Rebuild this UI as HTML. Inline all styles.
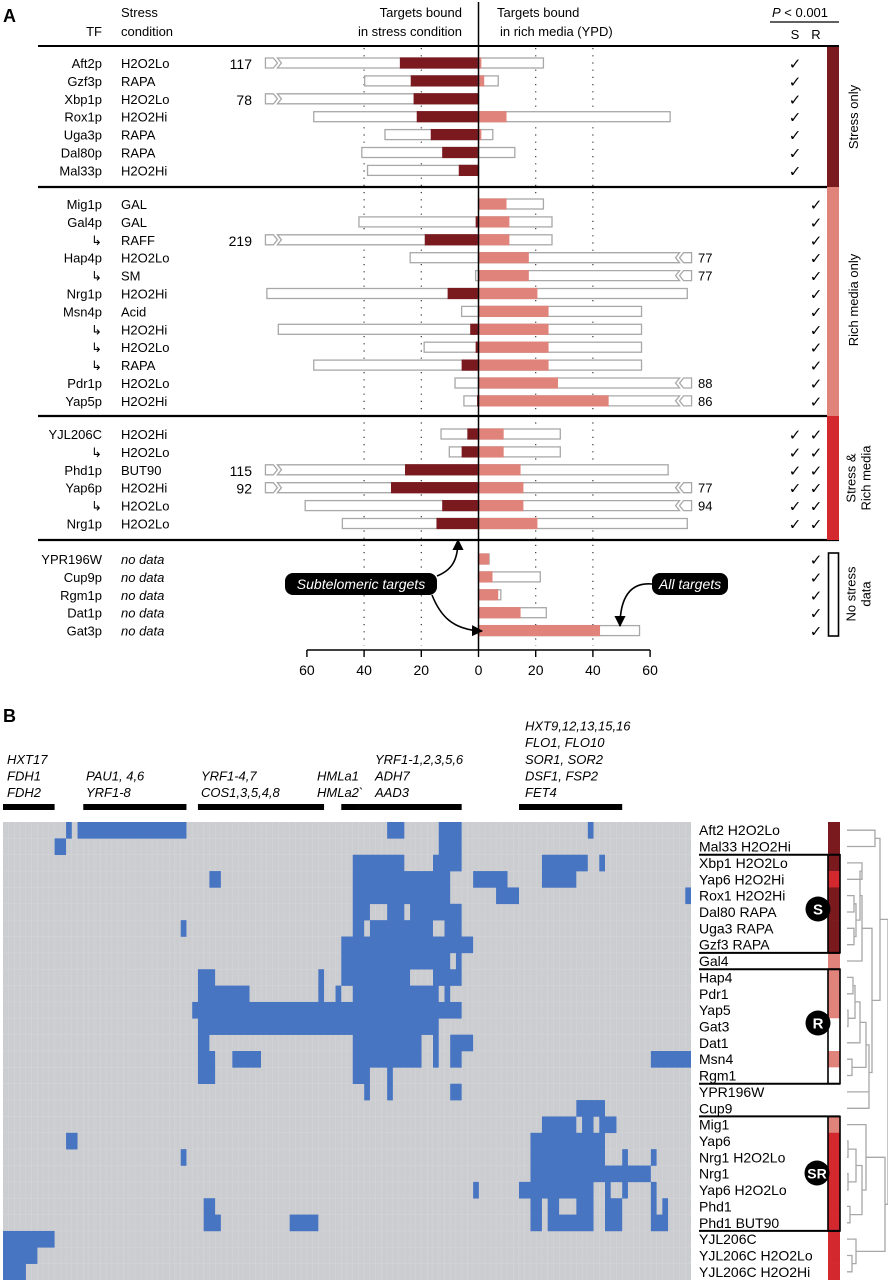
<!DOCTYPE html>
<html><head><meta charset="utf-8"><style>
html,body{margin:0;padding:0;background:#fff}
svg{display:block}
text{font-family:"Liberation Sans",Arial,sans-serif}
</style></head><body>
<svg id="fig" width="888" height="1280" viewBox="0 0 888 1280" xmlns="http://www.w3.org/2000/svg">
<g id="panelA"></g>
<g id="panelB"></g>
</svg>
<script>
// ---------- Panel A data ----------
const tfNames = ["Aft2p","Gzf3p","Xbp1p","Rox1p","Uga3p","Dal80p","Mal33p",
 "Mig1p","Gal4p","↳","Hap4p","↳","Nrg1p","Msn4p","↳","↳","↳","Pdr1p","Yap5p",
 "YJL206C","↳","Phd1p","Yap6p","↳","Nrg1p",
 "YPR196W","Cup9p","Rgm1p","Dat1p","Gat3p"];
const conditions = ["H2O2Lo","RAPA","H2O2Lo","H2O2Hi","RAPA","RAPA","H2O2Hi",
 "GAL","GAL","RAFF","H2O2Lo","SM","H2O2Hi","Acid","H2O2Hi","H2O2Lo","RAPA","H2O2Lo","H2O2Hi",
 "H2O2Hi","H2O2Lo","BUT90","H2O2Hi","H2O2Lo","H2O2Lo",
 "no data","no data","no data","no data","no data"];
const groupOf = [0,0,0,0,0,0,0, 1,1,1,1,1,1,1,1,1,1,1,1, 2,2,2,2,2,2, 3,3,3,3,3];
const stressTotal = [117,39.8,78,57.6,32.7,40.8,38.8, 0,41.8,219,23.9,1,74,5.9,70,19,57.6,8.2,5.1, 13.1,10.2,115,92,60.6,47.6, 0,0,0,0,0];
const stressBound = [27.5,23.7,22.7,21.6,16.7,12.7,6.9, 0,1,18.8,0,0,10.8,0,2.9,1,5.9,0,0.5, 3.9,5.9,25.7,30.6,12.7,14.7, 0,0,0,0,0];
const richBound = [1,2,0,9.8,1,0,0, 9.8,10.8,10.8,17.6,17.6,20.6,24.5,24.5,24.5,24.5,27.8,45.5, 8.8,8.8,14.7,15.7,15.7,20.6, 3.7,4.9,6.9,14.7,42.5];
const richTotal = [22.7,6.9,0,67,5,12.7,0, 22.7,25.7,25.7,77,77,73,57,57,57,57,88,86, 28.6,28.6,66.3,77,94,73, 3.7,21.6,7.8,23.7,56.3];
const axisTicks = [-60,-40,-20,0,20,40,60];
const groupStart = [63,204,434,559];

// ---------- Panel B data ----------
const hmRowLabels = ["Aft2 H2O2Lo","Mal33 H2O2Hi","Xbp1 H2O2Lo","Yap6 H2O2Hi","Rox1 H2O2Hi","Dal80 RAPA","Uga3 RAPA","Gzf3 RAPA","Gal4","Hap4","Pdr1","Yap5","Gat3","Dat1","Msn4","Rgm1","YPR196W","Cup9","Mig1","Yap6","Nrg1 H2O2Lo","Nrg1","Yap6 H2O2Lo","Phd1","Phd1 BUT90","YJL206C","YJL206C H2O2Lo","YJL206C H2O2Hi"];
const hmClass = ["S","S","S","SR","S","S","S","S","R","R","R","R","N","N","R","N","","","R","SR","SR","SR","SR","SR","SR","SR","SR","SR"];
const hmCols = 120;
const hmBlocks = [
 [[11,11],[13,31],[67,69],[76,79],[102,102]],
 [[9,10],[76,79]],
 [[61,69],[75,79],[94,101],[104,104]],
 [[36,37],[61,77],[82,87],[94,99]],
 [[61,77],[86,89],[119,119]],
 [[61,63],[67,69],[71,79]],
 [[31,31],[61,62],[64,74],[77,79]],
 [[59,81]],
 [[59,77],[79,79]],
 [[34,36],[55,55],[59,70],[75,79]],
 [[34,42],[55,55],[58,58],[61,75],[77,77]],
 [[33,79]],
 [[34,75]],
 [[34,35],[61,72],[75,75],[78,81]],
 [[34,36],[40,44],[61,72],[75,75],[78,79],[113,119]],
 [[34,36],[61,63],[67,67]],
 [[63,63],[67,67],[78,79]],
 [[100,104]],
 [[94,99],[101,102],[104,106]],
 [[11,12],[92,104]],
 [[31,31],[92,104],[108,108],[113,113]],
 [[92,112]],
 [[82,82],[90,102],[105,105],[108,108],[113,113]],
 [[35,36],[92,93],[95,96],[100,102],[105,107],[113,113],[115,115]],
 [[35,37],[50,54],[92,93],[95,102],[105,107],[113,115]],
 [[0,8]],[[0,5]],[[0,3]]
];
const geneGroups = [
 {lines:["HXT17","FDH1","FDH2"], c0:0, c1:8, lx:7},
 {lines:["PAU1, 4,6","YRF1-8"], c0:14, c1:31, lx:86},
 {lines:["YRF1-4,7","COS1,3,5,4,8"], c0:34, c1:55, lx:201},
 {lines:["HMLa1","HMLa2`"], c0:59, c1:61, lx:317},
 {lines:["YRF1-1,2,3,5,6","ADH7","AAD3"], c0:62, c1:79, lx:375},
 {lines:["HXT9,12,13,15,16","FLO1, FLO10","SOR1, SOR2","DSF1, FSP2","FET4"], c0:90, c1:107, lx:525}
];
const dendro = [888,[880,[875,0,1],[872,[862,[860,[862,2,3],[856,[854,4,5],[854,6,7]]],8],[869,[866,[860,[855,[853,9,10],[848,11,12]],13],[852,14,15]],[869,16,17]]]],[885,[866,18,[862,[856,[848,19,20],[848,21,22]],[850,23,24]]],[856,25,[852,26,27]]]];

// ---------- helpers ----------
const NS="http://www.w3.org/2000/svg";
function mk(tag, parent, attrs){const e=document.createElementNS(NS,tag);for(const k in attrs)e.setAttribute(k,attrs[k]);parent.appendChild(e);return e;}
function txt(parent,x,y,s,attrs){const t=mk('text',parent,Object.assign({x:x,y:y},attrs||{}));t.textContent=s;return t;}
const DARK="#7a1a1f", PINK="#e0837a", RED="#d3282e", GRAY="#a8a8a8";

// ---------- Panel A ----------
const A=document.getElementById('panelA');
const x0=478.5, ppu=2.86;
const X=v=>x0+v*ppu;
const BRK=74.5;
function yRow(i){const g=groupOf[i];let k=0;for(let j=0;j<i;j++)if(groupOf[j]===g)k++;return groupStart[g]+k*17.9;}

let t;
t=txt(A,3,22,"A",{"font-size":18,"font-weight":"bold"});

t=txt(A,102,36,"TF",{"font-size":13,"text-anchor":"end"});
t=txt(A,121,17,"Stress",{"font-size":13});
t=txt(A,121,36,"condition",{"font-size":13});
t=txt(A,462,17,"Targets bound",{"font-size":13,"text-anchor":"end"});
t=txt(A,462,36,"in stress condition",{"font-size":13,"text-anchor":"end"});
t=txt(A,497,17,"Targets bound",{"font-size":13});
t=txt(A,500,36,"in rich media (YPD)",{"font-size":13});
t=mk('text',A,{x:772,y:17,"font-size":13});t.innerHTML='<tspan font-style="italic">P</tspan> &lt; 0.001';

mk('line',A,{x1:770,y1:22,x2:839,y2:22,stroke:"#000","stroke-width":1.3});
t=txt(A,795,39,"S",{"font-size":13,"text-anchor":"middle"});
t=txt(A,816,39,"R",{"font-size":13,"text-anchor":"middle"});

[-40,-20,20,40].forEach(v=>{const l=mk('line',A,{x1:X(v),y1:48,x2:X(v),y2:646,stroke:"#333","stroke-width":1.2,"stroke-dasharray":"1.2 6"});
 });
[46,187,416,540].forEach((y,i)=>{const l=mk('line',A,{x1:38,y1:y,x2:839,y2:y,stroke:"#000","stroke-width":i===0?2:2.2});
 });

for(let i=0;i<tfNames.length;i++){
 const y=yRow(i), h=10, yt=y-5;
 const g=mk('g',A,{});
 
 t=txt(g,102,y+5,tfNames[i],{"font-size":13,"text-anchor":"end"});
 
 t=txt(g,121,y+5,conditions[i],{"font-size":13,"font-style":conditions[i]==="no data"?"italic":"normal"});
 
 const st=stressTotal[i];
 if(st>0){
  if(st>BRK){
   const xl=X(-BRK);
   let p=mk('polygon',g,{points:`${xl},${yt} ${xl+8},${yt} ${xl+12},${y} ${xl+8},${yt+h} ${xl},${yt+h}`,fill:"#fff",stroke:GRAY,"stroke-width":1.3});
   
   p=mk('polygon',g,{points:`${xl+12},${yt} ${x0},${yt} ${x0},${yt+h} ${xl+12},${yt+h} ${xl+16},${y}`,fill:"#fff",stroke:GRAY,"stroke-width":1.3});
   
   t=txt(g,252,y+6,String(st),{"font-size":14,"text-anchor":"end"});
   
  } else {
   const r=mk('rect',g,{x:X(-st),y:yt,width:st*ppu,height:h,fill:"#fff",stroke:GRAY,"stroke-width":1.3});
   
  }
 }
 if(stressBound[i]>0){const r=mk('rect',g,{x:X(-stressBound[i]),y:yt-0.6,width:stressBound[i]*ppu,height:h+1.2,fill:DARK});
  }
 const rt=richTotal[i];
 if(rt>0){
  if(rt>BRK){
   const xr=X(BRK);
   let p=mk('polygon',g,{points:`${x0},${yt} ${xr-12},${yt} ${xr-16},${y} ${xr-12},${yt+h} ${x0},${yt+h}`,fill:"#fff",stroke:GRAY,"stroke-width":1.3});
   
   p=mk('polygon',g,{points:`${xr},${yt} ${xr-8},${yt} ${xr-12},${y} ${xr-8},${yt+h} ${xr},${yt+h}`,fill:"#fff",stroke:GRAY,"stroke-width":1.3});
   
   t=txt(g,698,y+5,String(rt),{"font-size":13});
   
  } else {
   const r=mk('rect',g,{x:x0,y:yt,width:rt*ppu,height:h,fill:"#fff",stroke:GRAY,"stroke-width":1.3});
   
  }
 }
 if(richBound[i]>0){const r=mk('rect',g,{x:x0,y:yt-0.6,width:richBound[i]*ppu,height:h+1.2,fill:PINK});
  }
 const gr=groupOf[i];
 if(gr===0||gr===2){t=txt(g,795,y+6,"✓",{"font-size":15,"text-anchor":"middle"});}
 if(gr>=1){t=txt(g,816,y+6,"✓",{"font-size":15,"text-anchor":"middle"});}
}
let zl=mk('line',A,{x1:x0,y1:2,x2:x0,y2:650,stroke:"#000","stroke-width":1.5});

let ax=mk('line',A,{x1:X(-60),y1:650,x2:X(60),y2:650,stroke:"#000","stroke-width":1.4});

axisTicks.forEach(v=>{let l=mk('line',A,{x1:X(v),y1:650,x2:X(v),y2:657,stroke:"#000","stroke-width":1.4});
 
 let tt=txt(A,X(v),675,String(Math.abs(v)),{"font-size":14,"text-anchor":"middle"});
 });
[[47,187,DARK],[187,416,PINK],[416,540,RED]].forEach(s=>{let r=mk('rect',A,{x:827,y:s[0],width:12,height:s[1]-s[0],fill:s[2]});
 });
let nb=mk('rect',A,{x:828.5,y:553,width:10,height:83,fill:"#fff",stroke:"#000","stroke-width":1.6});

function vtext(x,y,lines,name){const g=mk('g',A,{transform:`translate(${x},${y}) rotate(-90)`});
 
 lines.forEach((s,k)=>{txt(g,0,k*15-(lines.length-1)*7.5+5,s,{"font-size":13,"text-anchor":"middle"});});}
vtext(853,117,["Stress only"],'stress-only-label');
vtext(853,300,["Rich media only"],'rich-only-label');
vtext(858,478,["Stress &","Rich media"],'stress-rich-label');
vtext(858,594,["No stress","data"],'no-stress-label');
function callout(x,y,w,s,name){const g=mk('g',A,{});
 mk('rect',g,{x:x,y:y,width:w,height:22,rx:8,fill:"#000"});
 txt(g,x+w/2,y+16,s,{"font-size":14,"font-style":"italic",fill:"#fff","text-anchor":"middle"});}
callout(285,573,152,"Subtelomeric targets",'subtelomeric-callout');
callout(652,573,76,"All targets",'all-targets-callout');
mk('defs',A,{}).innerHTML='<marker id="ah" viewBox="0 0 10 10" refX="9" refY="5" markerWidth="7" markerHeight="7" orient="auto"><path d="M0,0 L10,5 L0,10 z" fill="#000"/></marker>';
[["M437,576 C452,570 458,560 458,540","arrow-up"],["M432,595 C440,615 452,630 482,631","arrow-right"],["M652,584 C630,582 620,598 620,626","arrow-down"]].forEach(a=>{
 let p=mk('path',A,{d:a[0],fill:"none",stroke:"#000","stroke-width":1.6,"marker-end":"url(#ah)"});
 });

// ---------- Panel B ----------
const B=document.getElementById('panelB');
const hx0=3, hx1=691, hy0=822, rowH=(1280-822)/hmRowLabels.length, colW=(hx1-hx0)/hmCols;
t=txt(B,3,722,"B",{"font-size":18,"font-weight":"bold"});
let bg=mk('rect',B,{x:hx0,y:hy0,width:hx1-hx0,height:1280-hy0,fill:"#cccdd1"});

let gp='';for(let c=1;c<hmCols;c++){const x=hx0+c*colW;gp+=`M${x.toFixed(2)},${hy0}V1280`;}
for(let r=1;r<hmRowLabels.length;r++){const y=hy0+r*rowH;gp+=`M${hx0},${y.toFixed(2)}H${hx1}`;}
let gg=mk('path',B,{d:gp,stroke:"#d6d6da","stroke-width":0.5,fill:"none"});
hmBlocks.forEach((blocks,r)=>{blocks.forEach(b=>{
 const c=mk('rect',B,{x:hx0+b[0]*colW,y:hy0+r*rowH,width:(b[1]-b[0]+1)*colW,height:rowH+0.3,fill:"#4775c1"});
 });});
geneGroups.forEach(g=>{
 const xs=hx0+g.c0*colW, xe=hx0+(g.c1+1)*colW;
 const bar=mk('rect',B,{x:xs,y:804,width:xe-xs,height:6,fill:"#000"});
 
 const n=g.lines.length;
 g.lines.forEach((s,k)=>{const tt=txt(B,g.lx,797-(n-1-k)*16.6,s,{"font-size":13,"font-style":"italic"});
  });
});
const clsColor={S:DARK,R:PINK,SR:RED,N:"#fff"};
hmRowLabels.forEach((s,r)=>{const y=hy0+(r+0.5)*rowH;
 const tt=txt(B,699,y+5,s,{"font-size":14});
 if(hmClass[r]){const st=mk('rect',B,{x:828,y:hy0+r*rowH,width:12,height:rowH+0.3,fill:clsColor[hmClass[r]]});
  }
});
function box(y1,y2,name){const g=mk('g',B,{});
 mk('line',g,{x1:699,y1:y1,x2:840,y2:y1,stroke:"#000","stroke-width":2});
 mk('line',g,{x1:699,y1:y2,x2:840,y2:y2,stroke:"#000","stroke-width":2});
 mk('rect',g,{x:828,y:y1,width:12,height:y2-y1,fill:"none",stroke:"#000","stroke-width":1.6});}
box(hy0+2*rowH,hy0+8*rowH,'s-cluster-box');
box(hy0+9*rowH,hy0+16*rowH,'r-cluster-box');
box(hy0+18*rowH,hy0+25*rowH,'sr-cluster-box');
[[818,909,"S"],[818,1023,"R"],[817,1173,"SR"]].forEach(c=>{const g=mk('g',B,{});
 mk('circle',g,{cx:c[0],cy:c[1],r:12.5,fill:"#000"});
 txt(g,c[0],c[1]+5.5,c[2],{"font-size":c[2].length>1?14:15,"font-weight":"bold",fill:"#fff","text-anchor":"middle"});});
let dp='';
function node(n){if(typeof n==='number'){return {x:847,y:hy0+(n+0.5)*rowH};}
 const a=node(n[1]),b=node(n[2]);const x=n[0];
 dp+=`M${a.x},${a.y.toFixed(1)}H${x}V${b.y.toFixed(1)}H${b.x}`;return {x:x,y:(a.y+b.y)/2};}
node(dendro);
let dd=mk('path',B,{d:dp,fill:"none",stroke:"#a8a8a8","stroke-width":1.3});
</script>
</body></html>
